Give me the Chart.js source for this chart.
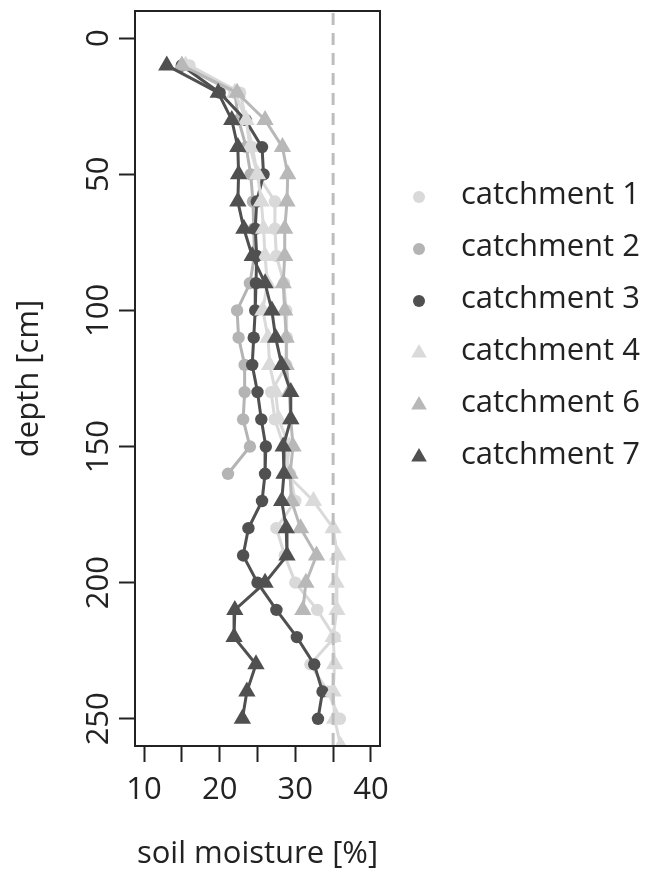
<!DOCTYPE html>
<html>
<head>
<meta charset="utf-8">
<script src="https://cdn.jsdelivr.net/npm/chart.js@4"></script>
<style>
  html, body { margin: 0; padding: 0; background: #fff; }
  #wrap { width: 645px; height: 873px; }
</style>
</head>
<body>
<div id="wrap"><canvas id="graph" width="645" height="873"></canvas></div>
<script>
// depth of each sample (cm)
const depths = [10, 20, 30, 40, 50, 60, 70, 80, 90, 100, 110, 120, 130,
  140, 150, 160, 170, 180, 190, 200, 210, 220, 230, 240, 250, 260];

// soil moisture (%) per catchment, top down
const catchment1 = [16, 22.7, 23.5, 24.3, 25, 27.3, 27.3, 27.5, 28.5, 28.8, 28.9, 28.8, 26.8,
  27.3, 28.5, 29.3, 30, 27.5, 28.6, 30, 32.9, 35.2, 32, 34.3, 35.9];
const catchment2 = [15, 22, 22.5, 23.5, 24.1, 24.4, 24.5, 24.6, 24, 22.3, 22.5, 23.3, 23.3,
  23.1, 24, 21.1];
const catchment3 = [15, 20, 23.4, 25.6, 25.8, 24.9, 24.7, 24.9, 24.8, 24.7, 24.5, 24.3, 25,
  25.5, 26.1, 26, 25.6, 23.8, 23.1, 25, 27.5, 30.2, 32.5, 33.6, 33];
const catchment4 = [15.5, 22, 23.5, 24, 25, 25.5, 25.8, 26, 26.3, 25.7, 26.4, 26.6, 27.4,
  27.8, 29.2, 28.8, 32.4, 35, 35.6, 35.4, 35.5, 35, 35.2, 35, 35.2, 36];
const catchment6 = [15, 22.3, 26, 28.3, 29, 28.9, 28.6, 28.6, 28.4, 28.6, 28.8, 28.8, 29.2,
  29.4, 29.7, 29.3, 29.5, 30.7, 32.8, 31.4, 31];
const catchment7 = [13, 19.8, 21.6, 22.4, 22.5, 22.4, 23.2, 24.3, 26, 26.9, 27.4, 28.2, 29.4,
  29.4, 28.4, 28.5, 28.2, 28.8, 28.9, 26, 22, 21.9, 24.8, 23.6, 23];

const seriesNames = ['catchment 1', 'catchment 2', 'catchment 3', 'catchment 4', 'catchment 6', 'catchment 7'];
const seriesValues = [catchment1, catchment2, catchment3, catchment4, catchment6, catchment7];
const seriesColors = ['#d9d9d9', '#b4b4b4', '#505050', '#dadada', '#b8b8b8', '#505050'];
const seriesShapes = ['circle', 'circle', 'circle', 'triangle', 'triangle', 'triangle'];

const xTicks = [10, 15, 20, 25, 30, 35, 40];
const xTickLabels = ['10', '', '20', '', '30', '', '40'];
const yTicks = [0, 50, 100, 150, 200, 250];
const refMoisture = 35;

const FONT = '"Open Sans", "DejaVu Sans", sans-serif';
const INK = '#222';

const datasets = seriesValues.map((vals, i) => ({
  label: seriesNames[i],
  data: vals.map((v, k) => ({ x: v, y: depths[k] })),
  showLine: true,
  borderColor: seriesColors[i],
  backgroundColor: seriesColors[i],
  borderWidth: 3,
  pointStyle: seriesShapes[i],
  pointRadius: seriesShapes[i] === 'circle' ? 6.2 : 10,
  pointBorderWidth: 0,
  tension: 0,
  clip: 0,
  order: seriesValues.length - i  // later catchments on top
}));

// box, dashed reference line, rotated y labels and legend
const decor = {
  id: 'decor',
  afterDatasetsDraw(chart) {
    const ctx = chart.ctx;
    const a = chart.chartArea;
    const xs = chart.scales.x, ys = chart.scales.y;
    ctx.save();
    // dashed line at field capacity
    const rx = xs.getPixelForValue(refMoisture);
    ctx.strokeStyle = '#bdbdbd';
    ctx.lineWidth = 3;
    ctx.setLineDash([12, 8]);
    ctx.beginPath();
    ctx.moveTo(rx, a.top + 2);
    ctx.lineTo(rx, a.bottom);
    ctx.stroke();
    ctx.setLineDash([]);
    // plot frame
    ctx.strokeStyle = INK;
    ctx.lineWidth = 2;
    ctx.strokeRect(a.left, a.top, a.right - a.left, a.bottom - a.top);
    // y tick labels, parallel to the axis
    ctx.fillStyle = INK;
    ctx.font = '31px ' + FONT;
    ctx.textAlign = 'center';
    ctx.textBaseline = 'middle';
    yTicks.forEach(v => {
      const py = ys.getPixelForValue(v);
      ctx.save();
      ctx.translate(99, py);
      ctx.rotate(-Math.PI / 2);
      ctx.fillText(String(v), 0, 0);
      ctx.restore();
    });
    // legend
    ctx.font = '31px ' + FONT;
    ctx.textAlign = 'left';
    chart.data.datasets.forEach((ds, i) => {
      const ly = 197 + i * 52;
      ctx.fillStyle = ds.backgroundColor;
      ctx.beginPath();
      if (ds.pointStyle === 'circle') {
        ctx.arc(419, ly, 6, 0, Math.PI * 2);
      } else {
        const r = 9;
        ctx.moveTo(419, ly - r);
        ctx.lineTo(419 + r * 0.866, ly + r / 2);
        ctx.lineTo(419 - r * 0.866, ly + r / 2);
        ctx.closePath();
      }
      ctx.fill();
      ctx.fillStyle = INK;
      ctx.fillText(ds.label, 461, ly - 2);
    });
    ctx.restore();
  }
};

new Chart(document.getElementById('graph'), {
  type: 'scatter',
  data: { datasets: datasets },
  options: {
    responsive: false,
    animation: false,
    events: [],
    layout: { padding: { top: 11, right: 265, left: 0, bottom: 0 } },
    plugins: {
      legend: { display: false },
      tooltip: { enabled: false }
    },
    scales: {
      x: {
        type: 'linear',
        min: 8.8,
        max: 41.2,
        afterBuildTicks: s => { s.ticks = xTicks.map(v => ({ value: v })); },
        afterFit: s => { s.height = 873 - 746; },
        border: { display: false },
        grid: { drawOnChartArea: false, drawTicks: true, tickLength: 16, tickColor: INK, tickWidth: 2 },
        ticks: {
          color: INK,
          font: { family: FONT, size: 31 },
          padding: 10,
          maxRotation: 0,
          autoSkip: false,
          callback: (v, idx) => xTickLabels[idx]
        },
        title: {
          display: true,
          text: 'soil moisture [%]',
          color: INK,
          font: { family: FONT, size: 31 },
          padding: { top: 0, bottom: 0 }
        }
      },
      y: {
        type: 'linear',
        reverse: true,
        min: -10,
        max: 260,
        afterBuildTicks: s => { s.ticks = yTicks.map(v => ({ value: v })); },
        afterFit: s => { s.width = 135; },
        border: { display: false },
        grid: { drawOnChartArea: false, drawTicks: true, tickLength: 16, tickColor: INK, tickWidth: 2 },
        ticks: { display: false },
        title: {
          display: true,
          text: 'depth [cm]',
          color: INK,
          font: { family: FONT, size: 31 },
          padding: { top: 11, bottom: 0 }
        }
      }
    }
  },
  plugins: [decor]
});
</script>
</body>
</html>
